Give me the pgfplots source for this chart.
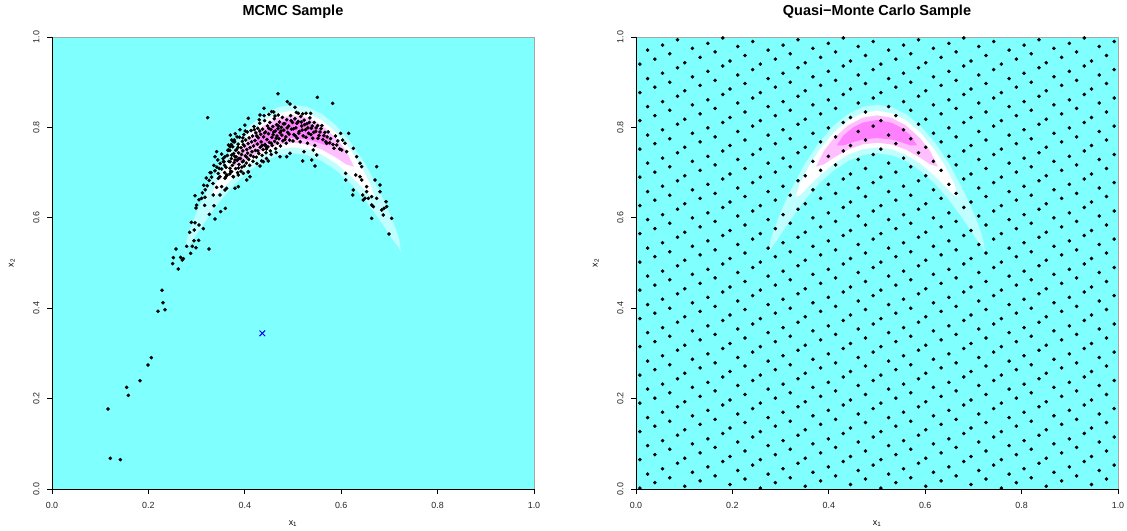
\documentclass[border=0pt]{standalone}
\usepackage{fontspec}
\setmainfont{Liberation Sans}
\usepackage{pgfplots}
\pgfplotsset{compat=1.18}
\definecolor{cmA}{HTML}{80FFFF}
\definecolor{cmB}{HTML}{BFFFFF}
\definecolor{cmC}{HTML}{FFFFFF}
\definecolor{cmD}{HTML}{FFBFFF}
\definecolor{cmE}{HTML}{FF80FF}
\newcommand{\banana}{%
\addplot[fill=cmB,draw=none] coordinates {(0.2757,0.5220)(0.28,0.5538)(0.29,0.5848)(0.30,0.6117)(0.32,0.6591)(0.35,0.7188)(0.38,0.7667)(0.41,0.8034)(0.44,0.8296)(0.47,0.8451)(0.5,0.8503)(0.53,0.8451)(0.56,0.8296)(0.59,0.8034)(0.62,0.7667)(0.65,0.7188)(0.68,0.6591)(0.70,0.6117)(0.71,0.5848)(0.72,0.5538)(0.7243,0.5220)(0.72,0.5330)(0.71,0.5470)(0.70,0.5629)(0.68,0.5949)(0.65,0.6388)(0.62,0.6757)(0.59,0.7048)(0.56,0.7258)(0.53,0.7385)(0.5,0.7427)(0.47,0.7385)(0.44,0.7258)(0.41,0.7048)(0.38,0.6757)(0.35,0.6388)(0.32,0.5949)(0.30,0.5629)(0.29,0.5470)(0.28,0.5330)} --cycle;
\addplot[fill=cmC,draw=none] coordinates {(0.3308,0.6468)(0.34,0.6758)(0.36,0.7168)(0.38,0.7498)(0.41,0.7885)(0.44,0.8157)(0.47,0.8318)(0.5,0.8371)(0.53,0.8318)(0.56,0.8157)(0.59,0.7885)(0.62,0.7498)(0.64,0.7168)(0.66,0.6758)(0.6692,0.6468)(0.66,0.6494)(0.64,0.6712)(0.62,0.6926)(0.59,0.7197)(0.56,0.7397)(0.53,0.7518)(0.5,0.7559)(0.47,0.7518)(0.44,0.7397)(0.41,0.7197)(0.38,0.6926)(0.36,0.6712)(0.34,0.6494)} --cycle;
\addplot[fill=cmD,draw=none] coordinates {(0.3737,0.7131)(0.39,0.7481)(0.41,0.7754)(0.44,0.8044)(0.47,0.8213)(0.5,0.8268)(0.53,0.8213)(0.56,0.8044)(0.59,0.7754)(0.61,0.7481)(0.6263,0.7131)(0.61,0.7183)(0.59,0.7328)(0.56,0.7510)(0.53,0.7623)(0.5,0.7662)(0.47,0.7623)(0.44,0.7510)(0.41,0.7328)(0.39,0.7183)} --cycle;
\addplot[fill=cmE,draw=none] coordinates {(0.4165,0.7600)(0.43,0.7818)(0.45,0.7995)(0.47,0.8105)(0.5,0.8165)(0.53,0.8105)(0.55,0.7995)(0.57,0.7818)(0.5835,0.7600)(0.57,0.7600)(0.55,0.7673)(0.53,0.7731)(0.5,0.7765)(0.47,0.7731)(0.45,0.7673)(0.43,0.7600)} --cycle;
}
\pgfplotsset{
 panel/.style={
  scale only axis, width=482bp, height=452bp,
  xmin=0, xmax=1, ymin=0, ymax=1,
  axis lines*=left, axis on top,
  axis line style={line width=0.8bp, black},
  axis background/.style={fill=cmA, draw=black!35, line width=0.8bp},
  tick align=outside, major tick length=5bp,
  tick style={line width=0.8bp, black},
  xtick={0,0.2,0.4,0.6,0.8,1}, ytick={0,0.2,0.4,0.6,0.8,1},
  xticklabels={0.0,0.2,0.4,0.6,0.8,1.0}, yticklabels={0.0,0.2,0.4,0.6,0.8,1.0},
  /pgf/number format/assume math mode=true,
  ticklabel style={font=\fontsize{8.9bp}{10bp}\selectfont, text=black!85},
  xticklabel style={anchor=north, yshift=-4.5bp},
  yticklabel style={rotate=90, anchor=south, yshift=4bp},
  every axis title/.style={at={(0.5,1)}, anchor=base, yshift=21bp, font=\fontsize{14.5bp}{16bp}\selectfont\bfseries},
  every axis x label/.style={at={(0.5,0)}, anchor=center, yshift=-35bp, font=\fontsize{8.9bp}{10bp}\selectfont},
  every axis y label/.style={at={(0,0.5)}, xshift=-40bp, rotate=90, anchor=center, font=\fontsize{8.9bp}{10bp}\selectfont},
  xlabel={x\textsubscript{1}}, ylabel={x\textsubscript{2}},
 },
 dots/.style={only marks, mark=*, mark size=1.6bp, mark options={draw=none, fill=black}},
}
\begin{document}
\begin{tikzpicture}
\useasboundingbox (0,0) rectangle (1127bp,531bp);
\begin{axis}[panel, at={(52bp,42bp)}, anchor=south west, title={MCMC Sample}]
\banana
\addplot[dots] coordinates {
(0.2988,0.6217)(0.3167,0.6276)(0.3361,0.6268)(0.3499,0.6136)(0.3596,0.6209)(0.3264,0.6077)(0.3382,0.5973)(0.2891,0.5900)(0.2967,0.5892)(0.3050,0.5841)(0.2953,0.5730)(0.2856,0.5678)(0.3140,0.5759)(0.2946,0.5494)(0.3043,0.5501)(0.2794,0.5369)(0.2911,0.5369)(0.2988,0.5339)(0.2573,0.5310)(0.3257,0.5310)(0.2877,0.5214)(0.2517,0.5118)(0.2669,0.5125)(0.2725,0.5096)(0.2704,0.5066)(0.2503,0.4985)(0.2621,0.4867)(0.2282,0.4395)(0.2303,0.4122)(0.2344,0.3967)(0.2199,0.3931)(0.2061,0.2905)(0.1992,0.2743)(0.1826,0.2397)(0.1549,0.2249)(0.1584,0.2072)(0.1162,0.1770)(0.1210,0.0679)(0.1418,0.0649)
(0.4689,0.8746)(0.5505,0.8665)(0.5823,0.8532)(0.4882,0.8569)(0.4938,0.8518)(0.3230,0.8215)(0.4398,0.8422)(0.4315,0.8274)(0.5041,0.8444)(0.5111,0.8311)(0.5270,0.8311)(0.5367,0.8311)(0.4073,0.8201)(0.4557,0.8348)(0.4627,0.8252)(0.4696,0.8274)
(0.5989,0.7869)(0.6155,0.7869)(0.6079,0.7648)(0.5906,0.7611)(0.5698,0.7648)(0.5851,0.7537)(0.6010,0.7500)(0.6252,0.7537)(0.6113,0.7463)(0.6093,0.6836)(0.6252,0.6615)(0.6238,0.6504)(0.6390,0.7205)(0.6321,0.7352)(0.6425,0.7131)(0.6425,0.6836)(0.6528,0.6689)(0.6445,0.6504)(0.6563,0.6431)(0.6736,0.7131)(0.6701,0.6836)(0.6805,0.6726)(0.6528,0.6578)(0.6632,0.6283)(0.6667,0.6246)(0.6805,0.6578)(0.6632,0.6468)(0.6736,0.6431)(0.6888,0.6209)(0.6930,0.6357)(0.6840,0.6173)(0.6943,0.6246)(0.6874,0.6062)(0.7047,0.5988)(0.6632,0.5988)(0.6992,0.5642)(0.6494,0.6431)(0.6459,0.6394)(0.6390,0.6910)(0.6300,0.6947)(0.6093,0.6984)(0.5422,0.7500)(0.5491,0.7389)(0.5387,0.7279)(0.5456,0.7146)(0.5228,0.7463)(0.5200,0.7257)(0.4938,0.7426)(0.4869,0.7352)(0.4730,0.7352)(0.4488,0.7257)(0.4384,0.7242)(0.4315,0.7146)
(0.3382,0.7352)(0.3416,0.7463)(0.3589,0.7352)(0.3762,0.7684)(0.3783,0.7721)(0.3693,0.7574)(0.3658,0.7500)(0.3727,0.7389)(0.3797,0.7279)(0.3693,0.7242)(0.3693,0.7094)(0.3727,0.7021)(0.3555,0.7242)(0.3485,0.6910)(0.3451,0.6873)(0.3624,0.6947)(0.3589,0.6873)(0.3762,0.6910)(0.3866,0.6947)(0.3970,0.6984)(0.4073,0.7021)(0.4108,0.6910)(0.4039,0.6836)(0.3866,0.6689)(0.3797,0.6652)(0.3624,0.6652)(0.3520,0.6689)(0.3416,0.6674)(0.3589,0.6615)(0.3299,0.6999)(0.3174,0.6453)(0.3105,0.6431)(0.3347,0.6504)(0.3485,0.6504)(0.2967,0.6490)
(0.300,0.628)(0.305,0.640)(0.312,0.655)(0.318,0.662)(0.322,0.671)(0.326,0.683)(0.331,0.690)(0.334,0.676)(0.338,0.704)(0.342,0.712)(0.345,0.698)(0.349,0.720)(0.352,0.708)(0.355,0.731)(0.358,0.716)(0.344,0.728)(0.336,0.716)(0.328,0.700)(0.320,0.688)(0.315,0.672)
(0.361,0.712)(0.364,0.738)(0.367,0.725)(0.369,0.749)(0.371,0.703)(0.372,0.731)(0.374,0.716)(0.375,0.757)(0.377,0.742)(0.378,0.722)(0.379,0.768)(0.381,0.709)(0.382,0.735)(0.383,0.751)(0.384,0.727)(0.386,0.763)(0.387,0.744)(0.388,0.718)(0.389,0.778)(0.391,0.731)(0.392,0.755)(0.393,0.740)(0.394,0.712)(0.395,0.769)(0.396,0.748)(0.397,0.726)(0.398,0.784)(0.399,0.759)(0.401,0.737)(0.402,0.772)(0.403,0.721)(0.404,0.751)(0.405,0.790)(0.406,0.743)(0.407,0.764)(0.408,0.729)(0.409,0.777)(0.411,0.755)(0.412,0.738)(0.413,0.793)(0.414,0.768)(0.415,0.746)(0.416,0.781)(0.417,0.725)(0.418,0.759)(0.419,0.802)(0.366,0.761)(0.373,0.772)(0.380,0.786)(0.385,0.700)(0.390,0.795)(0.400,0.805)(0.358,0.700)(0.363,0.694)(0.376,0.691)(0.392,0.703)(0.410,0.716)(0.384,0.779)(0.370,0.783)(0.397,0.762)(0.404,0.734)(0.381,0.749)(0.388,0.731)(0.395,0.724)
(0.421,0.771)(0.422,0.749)(0.423,0.788)(0.424,0.734)(0.426,0.763)(0.427,0.798)(0.428,0.777)(0.429,0.742)(0.431,0.809)(0.432,0.756)(0.433,0.785)(0.434,0.768)(0.436,0.738)(0.437,0.796)(0.438,0.751)(0.439,0.779)(0.441,0.815)(0.442,0.762)(0.443,0.790)(0.444,0.744)(0.446,0.773)(0.447,0.803)(0.448,0.757)(0.449,0.786)(0.451,0.767)(0.452,0.811)(0.453,0.748)(0.454,0.795)(0.456,0.778)(0.457,0.760)(0.458,0.802)(0.459,0.784)(0.461,0.819)(0.462,0.769)(0.463,0.792)(0.464,0.753)(0.466,0.806)(0.467,0.781)(0.468,0.765)(0.469,0.797)(0.471,0.775)(0.472,0.812)(0.473,0.788)(0.474,0.759)(0.476,0.800)(0.477,0.783)(0.478,0.822)(0.479,0.770)(0.425,0.720)(0.435,0.726)(0.445,0.731)(0.455,0.740)(0.465,0.744)(0.440,0.826)(0.450,0.829)(0.430,0.817)(0.460,0.834)
(0.481,0.794)(0.483,0.808)(0.485,0.779)(0.487,0.817)(0.489,0.789)(0.491,0.803)(0.493,0.772)(0.495,0.826)(0.497,0.796)(0.499,0.811)(0.502,0.784)(0.504,0.819)(0.506,0.799)(0.509,0.776)(0.511,0.813)(0.513,0.791)(0.516,0.824)(0.518,0.803)(0.521,0.781)(0.523,0.816)(0.526,0.795)(0.529,0.808)(0.532,0.787)(0.535,0.821)(0.538,0.798)(0.541,0.776)(0.544,0.811)(0.547,0.791)(0.551,0.804)(0.554,0.782)(0.558,0.797)(0.562,0.773)(0.566,0.789)(0.571,0.779)(0.576,0.766)(0.486,0.765)(0.500,0.770)(0.515,0.768)(0.530,0.765)(0.545,0.760)(0.520,0.830)(0.507,0.833)
(0.483,0.773)(0.488,0.799)(0.492,0.785)(0.496,0.815)(0.501,0.797)(0.505,0.781)(0.508,0.809)(0.512,0.787)(0.517,0.812)(0.519,0.794)(0.524,0.806)(0.527,0.778)(0.531,0.799)(0.534,0.811)(0.537,0.784)(0.540,0.803)(0.543,0.789)(0.548,0.799)(0.552,0.776)(0.556,0.790)(0.560,0.804)(0.564,0.782)(0.568,0.768)(0.573,0.790)(0.578,0.775)(0.583,0.762)(0.588,0.781)(0.593,0.770)(0.597,0.752)(0.603,0.772)
(0.420,0.795)(0.425,0.781)(0.431,0.792)(0.436,0.760)(0.441,0.788)(0.445,0.752)(0.450,0.798)(0.455,0.765)(0.460,0.790)(0.465,0.776)(0.470,0.803)(0.475,0.792)(0.480,0.808)(0.401,0.792)(0.396,0.777)(0.386,0.756)(0.379,0.736)(0.372,0.762)(0.365,0.749)(0.357,0.724)(0.352,0.741)(0.347,0.709)(0.360,0.690)(0.369,0.697)(0.387,0.710)(0.399,0.715)(0.407,0.701)(0.418,0.735)(0.427,0.748)(0.444,0.758)
};
\addplot[only marks, mark=x, mark size=4bp, blue, line width=1bp] coordinates {(0.4364,0.3444)};
\end{axis}
\begin{axis}[panel, at={(636bp,42bp)}, anchor=south west, title={Quasi−Monte Carlo Sample}]
\banana
\addplot[dots] coordinates {
(0.008,0.002)(0.024,0.033)(0.008,0.065)(0.024,0.096)(0.008,0.127)(0.024,0.158)(0.008,0.190)(0.024,0.221)(0.008,0.252)(0.024,0.283)(0.008,0.315)(0.024,0.346)(0.008,0.377)(0.024,0.408)(0.008,0.440)(0.024,0.471)(0.008,0.502)(0.024,0.533)(0.008,0.565)(0.024,0.596)(0.008,0.627)(0.024,0.658)(0.008,0.690)(0.024,0.721)(0.008,0.752)(0.024,0.783)(0.008,0.815)(0.024,0.846)(0.008,0.877)(0.024,0.908)(0.008,0.940)(0.024,0.971)
(0.039,0.014)(0.055,0.045)(0.039,0.076)(0.055,0.107)(0.039,0.139)(0.055,0.170)(0.039,0.201)(0.055,0.232)(0.039,0.264)(0.055,0.295)(0.039,0.326)(0.055,0.357)(0.039,0.389)(0.055,0.420)(0.039,0.451)(0.055,0.482)(0.039,0.514)(0.055,0.545)(0.039,0.576)(0.055,0.607)(0.039,0.639)(0.055,0.670)(0.039,0.701)(0.055,0.732)(0.039,0.764)(0.055,0.795)(0.039,0.826)(0.055,0.857)(0.039,0.889)(0.055,0.920)(0.039,0.951)(0.055,0.982)
(0.070,0.025)(0.086,0.057)(0.070,0.088)(0.086,0.119)(0.070,0.150)(0.086,0.182)(0.070,0.213)(0.086,0.244)(0.070,0.275)(0.086,0.307)(0.070,0.338)(0.086,0.369)(0.070,0.400)(0.086,0.432)(0.070,0.463)(0.086,0.494)(0.070,0.525)(0.086,0.557)(0.070,0.588)(0.086,0.619)(0.070,0.650)(0.086,0.682)(0.070,0.713)(0.086,0.744)(0.070,0.775)(0.086,0.807)(0.070,0.838)(0.086,0.869)(0.070,0.900)(0.086,0.932)(0.070,0.963)(0.086,0.994)
(0.101,0.006)(0.117,0.037)(0.101,0.068)(0.117,0.100)(0.101,0.131)(0.117,0.162)(0.101,0.193)(0.117,0.225)(0.101,0.256)(0.117,0.287)(0.101,0.318)(0.117,0.350)(0.101,0.381)(0.117,0.412)(0.101,0.443)(0.117,0.475)(0.101,0.506)(0.117,0.537)(0.101,0.568)(0.117,0.600)(0.101,0.631)(0.117,0.662)(0.101,0.693)(0.117,0.725)(0.101,0.756)(0.117,0.787)(0.101,0.818)(0.117,0.850)(0.101,0.881)(0.117,0.912)(0.101,0.943)(0.117,0.975)
(0.133,0.018)(0.149,0.049)(0.133,0.080)(0.149,0.111)(0.133,0.143)(0.149,0.174)(0.133,0.205)(0.149,0.236)(0.133,0.268)(0.149,0.299)(0.133,0.330)(0.149,0.361)(0.133,0.393)(0.149,0.424)(0.133,0.455)(0.149,0.486)(0.133,0.518)(0.149,0.549)(0.133,0.580)(0.149,0.611)(0.133,0.643)(0.149,0.674)(0.133,0.705)(0.149,0.736)(0.133,0.768)(0.149,0.799)(0.133,0.830)(0.149,0.861)(0.133,0.893)(0.149,0.924)(0.133,0.955)(0.149,0.986)
(0.164,0.029)(0.180,0.061)(0.164,0.092)(0.180,0.123)(0.164,0.154)(0.180,0.186)(0.164,0.217)(0.180,0.248)(0.164,0.279)(0.180,0.311)(0.164,0.342)(0.180,0.373)(0.164,0.404)(0.180,0.436)(0.164,0.467)(0.180,0.498)(0.164,0.529)(0.180,0.561)(0.164,0.592)(0.180,0.623)(0.164,0.654)(0.180,0.686)(0.164,0.717)(0.180,0.748)(0.164,0.779)(0.180,0.811)(0.164,0.842)(0.180,0.873)(0.164,0.904)(0.180,0.936)(0.164,0.967)(0.180,0.998)
(0.195,0.010)(0.211,0.041)(0.195,0.072)(0.211,0.104)(0.195,0.135)(0.211,0.166)(0.195,0.197)(0.211,0.229)(0.195,0.260)(0.211,0.291)(0.195,0.322)(0.211,0.354)(0.195,0.385)(0.211,0.416)(0.195,0.447)(0.211,0.479)(0.195,0.510)(0.211,0.541)(0.195,0.572)(0.211,0.604)(0.195,0.635)(0.211,0.666)(0.195,0.697)(0.211,0.729)(0.195,0.760)(0.211,0.791)(0.195,0.822)(0.211,0.854)(0.195,0.885)(0.211,0.916)(0.195,0.947)(0.211,0.979)
(0.226,0.022)(0.242,0.053)(0.226,0.084)(0.242,0.115)(0.226,0.147)(0.242,0.178)(0.226,0.209)(0.242,0.240)(0.226,0.272)(0.242,0.303)(0.226,0.334)(0.242,0.365)(0.226,0.397)(0.242,0.428)(0.226,0.459)(0.242,0.490)(0.226,0.522)(0.242,0.553)(0.226,0.584)(0.242,0.615)(0.226,0.647)(0.242,0.678)(0.226,0.709)(0.242,0.740)(0.226,0.772)(0.242,0.803)(0.226,0.834)(0.242,0.865)(0.226,0.897)(0.242,0.928)(0.226,0.959)(0.242,0.990)
(0.258,0.002)(0.274,0.033)(0.258,0.065)(0.274,0.096)(0.258,0.127)(0.274,0.158)(0.258,0.190)(0.274,0.221)(0.258,0.252)(0.274,0.283)(0.258,0.315)(0.274,0.346)(0.258,0.377)(0.274,0.408)(0.258,0.440)(0.274,0.471)(0.258,0.502)(0.274,0.533)(0.258,0.565)(0.274,0.596)(0.258,0.627)(0.274,0.658)(0.258,0.690)(0.274,0.721)(0.258,0.752)(0.274,0.783)(0.258,0.815)(0.274,0.846)(0.258,0.877)(0.274,0.908)(0.258,0.940)(0.274,0.971)
(0.289,0.014)(0.305,0.045)(0.289,0.076)(0.305,0.107)(0.289,0.139)(0.305,0.170)(0.289,0.201)(0.305,0.232)(0.289,0.264)(0.305,0.295)(0.289,0.326)(0.305,0.357)(0.289,0.389)(0.305,0.420)(0.289,0.451)(0.305,0.482)(0.289,0.514)(0.305,0.545)(0.289,0.576)(0.305,0.607)(0.289,0.639)(0.305,0.670)(0.289,0.701)(0.305,0.732)(0.289,0.764)(0.305,0.795)(0.289,0.826)(0.305,0.857)(0.289,0.889)(0.305,0.920)(0.289,0.951)(0.305,0.982)
(0.320,0.025)(0.336,0.057)(0.320,0.088)(0.336,0.119)(0.320,0.150)(0.336,0.182)(0.320,0.213)(0.336,0.244)(0.320,0.275)(0.336,0.307)(0.320,0.338)(0.336,0.369)(0.320,0.400)(0.336,0.432)(0.320,0.463)(0.336,0.494)(0.320,0.525)(0.336,0.557)(0.320,0.588)(0.336,0.619)(0.320,0.650)(0.336,0.682)(0.320,0.713)(0.336,0.744)(0.320,0.775)(0.336,0.807)(0.320,0.838)(0.336,0.869)(0.320,0.900)(0.336,0.932)(0.320,0.963)(0.336,0.994)
(0.351,0.006)(0.367,0.037)(0.351,0.068)(0.367,0.100)(0.351,0.131)(0.367,0.162)(0.351,0.193)(0.367,0.225)(0.351,0.256)(0.367,0.287)(0.351,0.318)(0.367,0.350)(0.351,0.381)(0.367,0.412)(0.351,0.443)(0.367,0.475)(0.351,0.506)(0.367,0.537)(0.351,0.568)(0.367,0.600)(0.351,0.631)(0.367,0.662)(0.351,0.693)(0.367,0.725)(0.351,0.756)(0.367,0.787)(0.351,0.818)(0.367,0.850)(0.351,0.881)(0.367,0.912)(0.351,0.943)(0.367,0.975)
(0.383,0.018)(0.399,0.049)(0.383,0.080)(0.399,0.111)(0.383,0.143)(0.399,0.174)(0.383,0.205)(0.399,0.236)(0.383,0.268)(0.399,0.299)(0.383,0.330)(0.399,0.361)(0.383,0.393)(0.399,0.424)(0.383,0.455)(0.399,0.486)(0.383,0.518)(0.399,0.549)(0.383,0.580)(0.399,0.611)(0.383,0.643)(0.399,0.674)(0.383,0.705)(0.399,0.736)(0.383,0.768)(0.399,0.799)(0.383,0.830)(0.399,0.861)(0.383,0.893)(0.399,0.924)(0.383,0.955)(0.399,0.986)
(0.414,0.029)(0.430,0.061)(0.414,0.092)(0.430,0.123)(0.414,0.154)(0.430,0.186)(0.414,0.217)(0.430,0.248)(0.414,0.279)(0.430,0.311)(0.414,0.342)(0.430,0.373)(0.414,0.404)(0.430,0.436)(0.414,0.467)(0.430,0.498)(0.414,0.529)(0.430,0.561)(0.414,0.592)(0.430,0.623)(0.414,0.654)(0.430,0.686)(0.414,0.717)(0.430,0.748)(0.414,0.779)(0.430,0.811)(0.414,0.842)(0.430,0.873)(0.414,0.904)(0.430,0.936)(0.414,0.967)(0.430,0.998)
(0.445,0.010)(0.461,0.041)(0.445,0.072)(0.461,0.104)(0.445,0.135)(0.461,0.166)(0.445,0.197)(0.461,0.229)(0.445,0.260)(0.461,0.291)(0.445,0.322)(0.461,0.354)(0.445,0.385)(0.461,0.416)(0.445,0.447)(0.461,0.479)(0.445,0.510)(0.461,0.541)(0.445,0.572)(0.461,0.604)(0.445,0.635)(0.461,0.666)(0.445,0.697)(0.461,0.729)(0.445,0.760)(0.461,0.791)(0.445,0.822)(0.461,0.854)(0.445,0.885)(0.461,0.916)(0.445,0.947)(0.461,0.979)
(0.476,0.022)(0.492,0.053)(0.476,0.084)(0.492,0.115)(0.476,0.147)(0.492,0.178)(0.476,0.209)(0.492,0.240)(0.476,0.272)(0.492,0.303)(0.476,0.334)(0.492,0.365)(0.476,0.397)(0.492,0.428)(0.476,0.459)(0.492,0.490)(0.476,0.522)(0.492,0.553)(0.476,0.584)(0.492,0.615)(0.476,0.647)(0.492,0.678)(0.476,0.709)(0.492,0.740)(0.476,0.772)(0.492,0.803)(0.476,0.834)(0.492,0.865)(0.476,0.897)(0.492,0.928)(0.476,0.959)(0.492,0.990)
(0.508,0.002)(0.524,0.033)(0.508,0.065)(0.524,0.096)(0.508,0.127)(0.524,0.158)(0.508,0.190)(0.524,0.221)(0.508,0.252)(0.524,0.283)(0.508,0.315)(0.524,0.346)(0.508,0.377)(0.524,0.408)(0.508,0.440)(0.524,0.471)(0.508,0.502)(0.524,0.533)(0.508,0.565)(0.524,0.596)(0.508,0.627)(0.524,0.658)(0.508,0.690)(0.524,0.721)(0.508,0.752)(0.524,0.783)(0.508,0.815)(0.524,0.846)(0.508,0.877)(0.524,0.908)(0.508,0.940)(0.524,0.971)
(0.539,0.014)(0.555,0.045)(0.539,0.076)(0.555,0.107)(0.539,0.139)(0.555,0.170)(0.539,0.201)(0.555,0.232)(0.539,0.264)(0.555,0.295)(0.539,0.326)(0.555,0.357)(0.539,0.389)(0.555,0.420)(0.539,0.451)(0.555,0.482)(0.539,0.514)(0.555,0.545)(0.539,0.576)(0.555,0.607)(0.539,0.639)(0.555,0.670)(0.539,0.701)(0.555,0.732)(0.539,0.764)(0.555,0.795)(0.539,0.826)(0.555,0.857)(0.539,0.889)(0.555,0.920)(0.539,0.951)(0.555,0.982)
(0.570,0.025)(0.586,0.057)(0.570,0.088)(0.586,0.119)(0.570,0.150)(0.586,0.182)(0.570,0.213)(0.586,0.244)(0.570,0.275)(0.586,0.307)(0.570,0.338)(0.586,0.369)(0.570,0.400)(0.586,0.432)(0.570,0.463)(0.586,0.494)(0.570,0.525)(0.586,0.557)(0.570,0.588)(0.586,0.619)(0.570,0.650)(0.586,0.682)(0.570,0.713)(0.586,0.744)(0.570,0.775)(0.586,0.807)(0.570,0.838)(0.586,0.869)(0.570,0.900)(0.586,0.932)(0.570,0.963)(0.586,0.994)
(0.601,0.006)(0.617,0.037)(0.601,0.068)(0.617,0.100)(0.601,0.131)(0.617,0.162)(0.601,0.193)(0.617,0.225)(0.601,0.256)(0.617,0.287)(0.601,0.318)(0.617,0.350)(0.601,0.381)(0.617,0.412)(0.601,0.443)(0.617,0.475)(0.601,0.506)(0.617,0.537)(0.601,0.568)(0.617,0.600)(0.601,0.631)(0.617,0.662)(0.601,0.693)(0.617,0.725)(0.601,0.756)(0.617,0.787)(0.601,0.818)(0.617,0.850)(0.601,0.881)(0.617,0.912)(0.601,0.943)(0.617,0.975)
(0.633,0.018)(0.649,0.049)(0.633,0.080)(0.649,0.111)(0.633,0.143)(0.649,0.174)(0.633,0.205)(0.649,0.236)(0.633,0.268)(0.649,0.299)(0.633,0.330)(0.649,0.361)(0.633,0.393)(0.649,0.424)(0.633,0.455)(0.649,0.486)(0.633,0.518)(0.649,0.549)(0.633,0.580)(0.649,0.611)(0.633,0.643)(0.649,0.674)(0.633,0.705)(0.649,0.736)(0.633,0.768)(0.649,0.799)(0.633,0.830)(0.649,0.861)(0.633,0.893)(0.649,0.924)(0.633,0.955)(0.649,0.986)
(0.664,0.029)(0.680,0.061)(0.664,0.092)(0.680,0.123)(0.664,0.154)(0.680,0.186)(0.664,0.217)(0.680,0.248)(0.664,0.279)(0.680,0.311)(0.664,0.342)(0.680,0.373)(0.664,0.404)(0.680,0.436)(0.664,0.467)(0.680,0.498)(0.664,0.529)(0.680,0.561)(0.664,0.592)(0.680,0.623)(0.664,0.654)(0.680,0.686)(0.664,0.717)(0.680,0.748)(0.664,0.779)(0.680,0.811)(0.664,0.842)(0.680,0.873)(0.664,0.904)(0.680,0.936)(0.664,0.967)(0.680,0.998)
(0.695,0.010)(0.711,0.041)(0.695,0.072)(0.711,0.104)(0.695,0.135)(0.711,0.166)(0.695,0.197)(0.711,0.229)(0.695,0.260)(0.711,0.291)(0.695,0.322)(0.711,0.354)(0.695,0.385)(0.711,0.416)(0.695,0.447)(0.711,0.479)(0.695,0.510)(0.711,0.541)(0.695,0.572)(0.711,0.604)(0.695,0.635)(0.711,0.666)(0.695,0.697)(0.711,0.729)(0.695,0.760)(0.711,0.791)(0.695,0.822)(0.711,0.854)(0.695,0.885)(0.711,0.916)(0.695,0.947)(0.711,0.979)
(0.726,0.022)(0.742,0.053)(0.726,0.084)(0.742,0.115)(0.726,0.147)(0.742,0.178)(0.726,0.209)(0.742,0.240)(0.726,0.272)(0.742,0.303)(0.726,0.334)(0.742,0.365)(0.726,0.397)(0.742,0.428)(0.726,0.459)(0.742,0.490)(0.726,0.522)(0.742,0.553)(0.726,0.584)(0.742,0.615)(0.726,0.647)(0.742,0.678)(0.726,0.709)(0.742,0.740)(0.726,0.772)(0.742,0.803)(0.726,0.834)(0.742,0.865)(0.726,0.897)(0.742,0.928)(0.726,0.959)(0.742,0.990)
(0.758,0.002)(0.774,0.033)(0.758,0.065)(0.774,0.096)(0.758,0.127)(0.774,0.158)(0.758,0.190)(0.774,0.221)(0.758,0.252)(0.774,0.283)(0.758,0.315)(0.774,0.346)(0.758,0.377)(0.774,0.408)(0.758,0.440)(0.774,0.471)(0.758,0.502)(0.774,0.533)(0.758,0.565)(0.774,0.596)(0.758,0.627)(0.774,0.658)(0.758,0.690)(0.774,0.721)(0.758,0.752)(0.774,0.783)(0.758,0.815)(0.774,0.846)(0.758,0.877)(0.774,0.908)(0.758,0.940)(0.774,0.971)
(0.789,0.014)(0.805,0.045)(0.789,0.076)(0.805,0.107)(0.789,0.139)(0.805,0.170)(0.789,0.201)(0.805,0.232)(0.789,0.264)(0.805,0.295)(0.789,0.326)(0.805,0.357)(0.789,0.389)(0.805,0.420)(0.789,0.451)(0.805,0.482)(0.789,0.514)(0.805,0.545)(0.789,0.576)(0.805,0.607)(0.789,0.639)(0.805,0.670)(0.789,0.701)(0.805,0.732)(0.789,0.764)(0.805,0.795)(0.789,0.826)(0.805,0.857)(0.789,0.889)(0.805,0.920)(0.789,0.951)(0.805,0.982)
(0.820,0.025)(0.836,0.057)(0.820,0.088)(0.836,0.119)(0.820,0.150)(0.836,0.182)(0.820,0.213)(0.836,0.244)(0.820,0.275)(0.836,0.307)(0.820,0.338)(0.836,0.369)(0.820,0.400)(0.836,0.432)(0.820,0.463)(0.836,0.494)(0.820,0.525)(0.836,0.557)(0.820,0.588)(0.836,0.619)(0.820,0.650)(0.836,0.682)(0.820,0.713)(0.836,0.744)(0.820,0.775)(0.836,0.807)(0.820,0.838)(0.836,0.869)(0.820,0.900)(0.836,0.932)(0.820,0.963)(0.836,0.994)
(0.851,0.006)(0.867,0.037)(0.851,0.068)(0.867,0.100)(0.851,0.131)(0.867,0.162)(0.851,0.193)(0.867,0.225)(0.851,0.256)(0.867,0.287)(0.851,0.318)(0.867,0.350)(0.851,0.381)(0.867,0.412)(0.851,0.443)(0.867,0.475)(0.851,0.506)(0.867,0.537)(0.851,0.568)(0.867,0.600)(0.851,0.631)(0.867,0.662)(0.851,0.693)(0.867,0.725)(0.851,0.756)(0.867,0.787)(0.851,0.818)(0.867,0.850)(0.851,0.881)(0.867,0.912)(0.851,0.943)(0.867,0.975)
(0.883,0.018)(0.899,0.049)(0.883,0.080)(0.899,0.111)(0.883,0.143)(0.899,0.174)(0.883,0.205)(0.899,0.236)(0.883,0.268)(0.899,0.299)(0.883,0.330)(0.899,0.361)(0.883,0.393)(0.899,0.424)(0.883,0.455)(0.899,0.486)(0.883,0.518)(0.899,0.549)(0.883,0.580)(0.899,0.611)(0.883,0.643)(0.899,0.674)(0.883,0.705)(0.899,0.736)(0.883,0.768)(0.899,0.799)(0.883,0.830)(0.899,0.861)(0.883,0.893)(0.899,0.924)(0.883,0.955)(0.899,0.986)
(0.914,0.029)(0.930,0.061)(0.914,0.092)(0.930,0.123)(0.914,0.154)(0.930,0.186)(0.914,0.217)(0.930,0.248)(0.914,0.279)(0.930,0.311)(0.914,0.342)(0.930,0.373)(0.914,0.404)(0.930,0.436)(0.914,0.467)(0.930,0.498)(0.914,0.529)(0.930,0.561)(0.914,0.592)(0.930,0.623)(0.914,0.654)(0.930,0.686)(0.914,0.717)(0.930,0.748)(0.914,0.779)(0.930,0.811)(0.914,0.842)(0.930,0.873)(0.914,0.904)(0.930,0.936)(0.914,0.967)(0.930,0.998)
(0.945,0.010)(0.961,0.041)(0.945,0.072)(0.961,0.104)(0.945,0.135)(0.961,0.166)(0.945,0.197)(0.961,0.229)(0.945,0.260)(0.961,0.291)(0.945,0.322)(0.961,0.354)(0.945,0.385)(0.961,0.416)(0.945,0.447)(0.961,0.479)(0.945,0.510)(0.961,0.541)(0.945,0.572)(0.961,0.604)(0.945,0.635)(0.961,0.666)(0.945,0.697)(0.961,0.729)(0.945,0.760)(0.961,0.791)(0.945,0.822)(0.961,0.854)(0.945,0.885)(0.961,0.916)(0.945,0.947)(0.961,0.979)
(0.976,0.022)(0.992,0.053)(0.976,0.084)(0.992,0.115)(0.976,0.147)(0.992,0.178)(0.976,0.209)(0.992,0.240)(0.976,0.272)(0.992,0.303)(0.976,0.334)(0.992,0.365)(0.976,0.397)(0.992,0.428)(0.976,0.459)(0.992,0.490)(0.976,0.522)(0.992,0.553)(0.976,0.584)(0.992,0.615)(0.976,0.647)(0.992,0.678)(0.976,0.709)(0.992,0.740)(0.976,0.772)(0.992,0.803)(0.976,0.834)(0.992,0.865)(0.976,0.897)(0.992,0.928)(0.976,0.959)(0.992,0.990)
};
\end{axis}
\end{tikzpicture}
\end{document}
